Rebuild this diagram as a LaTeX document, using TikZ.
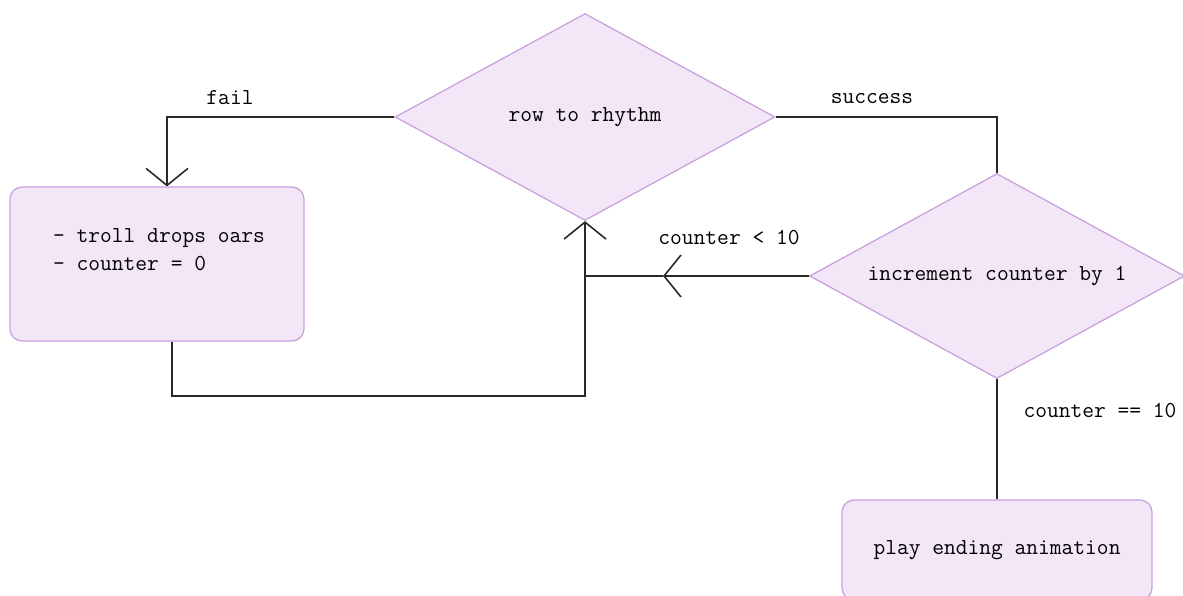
\documentclass[tikz,border=0pt]{standalone}
\usepackage{tikz}
\usetikzlibrary{arrows.meta, positioning, shapes.geometric}

\definecolor{boxfill}{RGB}{242,230,247}
\definecolor{boxedge}{RGB}{200,160,222}
\definecolor{wire}{RGB}{40,40,40}

\tikzset{
    decision/.style={diamond, aspect=1.83, draw=boxedge, fill=boxfill, line width=0.7pt, inner sep=0pt,
        font=\ttfamily\fontsize{13}{16}\selectfont},
    stepbox/.style={rectangle, rounded corners=0.24cm, draw=boxedge, fill=boxfill, line width=0.7pt,
        font=\ttfamily\fontsize{13}{16}\selectfont},
    flow/.style={draw=wire, line width=0.9pt},
    tip/.style={-{Straight Barb[length=0.34cm, width=0.84cm]}},
    cond/.style={font=\ttfamily\fontsize{13}{16}\selectfont}
}

\begin{document}
\begin{tikzpicture}[x=0.02cm, y=-0.02cm]
    % Canvas: 1183 x 595 pixel grid, y pointing down
    \useasboundingbox (0,0) rectangle (1183,595);
    \clip (0,0) rectangle (1183,595);

    % Decisions
    \node[decision, minimum width=7.6cm, minimum height=4.14cm] (rhythm) at (585,117) {row to rhythm};
    \node[decision, minimum width=7.5cm, minimum height=4.1cm] (count) at (997,276) {increment counter by 1};

    % Boxes
    \node[stepbox, minimum width=5.88cm, minimum height=3.08cm] (drop) at (157,264) {};
    \node[align=left, font=\ttfamily\fontsize{13}{16}\selectfont] (droptext) at (159,250) {- troll drops oars\\- counter = 0};
    \node[stepbox, minimum width=6.2cm, minimum height=2cm] (finish) at (997,550) {play ending animation};

    % Helper points
    \coordinate (base) at (585,396);
    \coordinate (join) at (585,276);
    \coordinate (mid) at (663,276);

    % fail branch
    \draw[flow, tip] (rhythm.west) -| ([xshift=0.2cm]drop.north);
    \node[cond] (lblfail) at (230,98) {fail};

    % success branch
    \draw[flow] (rhythm.east) -| (count.north);
    \node[cond] (lblsuccess) at (872,99) {success};

    % back to the rhythm check
    \draw[flow, tip] ([xshift=0.3cm]drop.south) |- (base) -- (rhythm.south);
    \draw[flow, tip] (count.west) -- (mid);
    \draw[flow] (mid) -- (join);
    \node[cond] (lblless) at (729,238) {counter < 10};

    % end
    \draw[flow] (count.south) -- (finish.north);
    \node[cond] (lblequal) at (1100,411) {counter == 10};
\end{tikzpicture}
\end{document}
